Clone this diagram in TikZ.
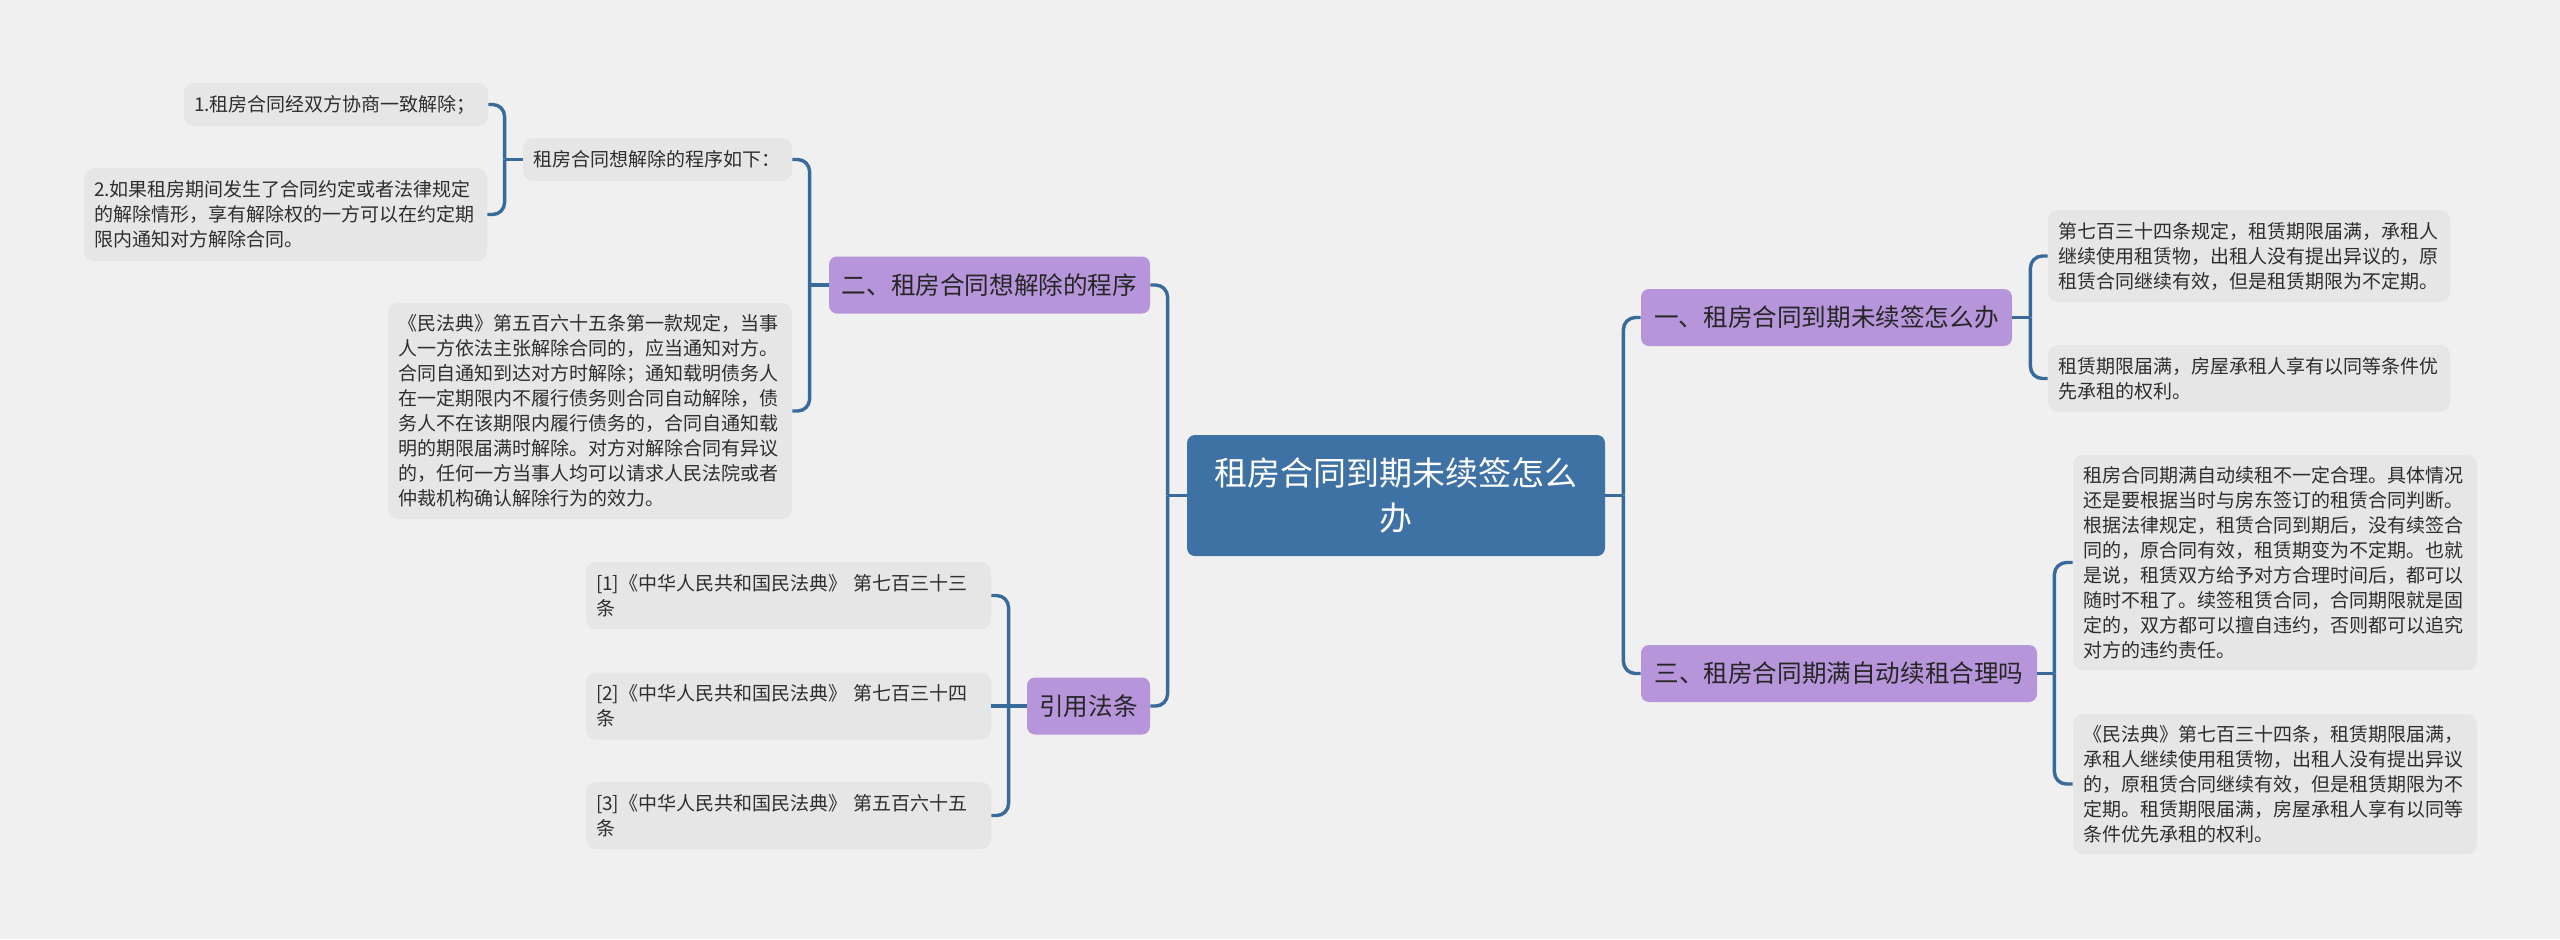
\documentclass[tikz,border=0pt]{standalone}
\usepackage{fontspec}
\usepackage{xcolor}
\usepackage{tikz}
\usetikzlibrary{positioning}
\setmainfont{Noto Sans CJK SC}
\newfontfamily\cjk{Noto Sans CJK SC}
\definecolor{bggray}{HTML}{F0F0F0}
\definecolor{leafgray}{HTML}{E6E6E6}
\definecolor{topicpurple}{HTML}{B795DA}
\definecolor{rootblue}{HTML}{3E71A4}
\definecolor{linkblue}{HTML}{386A9A}
\definecolor{inktext}{HTML}{2E2E2E}
\newcommand{\leaffont}{\cjk\fontsize{9.5}{12.5}\selectfont}
\newcommand{\topicfont}{\cjk\fontsize{12.3}{15}\selectfont}
\newcommand{\rootfont}{\cjk\fontsize{16.5}{22.5}\selectfont}
\tikzset{
  leafbox/.style={fill=leafgray, rounded corners=5pt, inner xsep=5pt, inner ysep=0pt,
    align=left, font=\leaffont, text=inktext},
  topicbox/.style={fill=topicpurple, rounded corners=4pt, inner sep=0pt,
    minimum height=28.5pt, align=center, font=\topicfont, text=black!85},
  rootbox/.style={fill=rootblue, rounded corners=4pt, inner sep=0pt,
    minimum width=209pt, minimum height=60.5pt, align=center, font=\rootfont, text=white},
  link/.style={draw=linkblue, line width=1.7pt, rounded corners=6pt},
}

\begin{document}
\begin{tikzpicture}[x=0.5pt, y=-0.5pt]
  % fundo
  \fill[bggray] (0,0) rectangle (2560,939);
  \useasboundingbox (0,0) rectangle (2560,939);
  % centro
  \node[rootbox] (root) at (1396,495.5) {租房合同到期未续签怎么\\办};
  % ramos
  \node[topicbox, minimum width=185.5pt] (one) at (1826.5,317.5) {一、租房合同到期未续签怎么办};
  \node[topicbox, minimum width=198pt] (three) at (1839,673.5) {三、租房合同期满自动续租合理吗};
  \node[topicbox, minimum width=160.5pt] (two) at (989.5,285) {二、租房合同想解除的程序};
  \node[topicbox, minimum width=61.5pt] (cite) at (1088.5,706) {引用法条};
  % folhas, lado direito
  \node[leafbox, text width=191pt, minimum height=46pt] (r1) at (2249,256)
    {第七百三十四条规定，租赁期限届满，承租人\\继续使用租赁物，出租人没有提出异议的，原\\租赁合同继续有效，但是租赁期限为不定期。};
  \node[leafbox, text width=191pt, minimum height=33.5pt] (r2) at (2249,378.5)
    {租赁期限届满，房屋承租人享有以同等条件优\\先承租的权利。};
  \node[leafbox, text width=192pt, minimum height=107.5pt] (r3) at (2275,562.5)
    {租房合同期满自动续租不一定合理。具体情况\\还是要根据当时与房东签订的租赁合同判断。\\根据法律规定，租赁合同到期后，没有续签合\\同的，原合同有效，租赁期变为不定期。也就\\是说，租赁双方给予对方合理时间后，都可以\\随时不租了。续签租赁合同，合同期限就是固\\定的，双方都可以擅自违约，否则都可以追究\\对方的违约责任。};
  \node[leafbox, text width=192pt, minimum height=70pt] (r4) at (2275,784)
    {《民法典》第七百三十四条，租赁期限届满，\\承租人继续使用租赁物，出租人没有提出异议\\的，原租赁合同继续有效，但是租赁期限为不\\定期。租赁期限届满，房屋承租人享有以同等\\条件优先承租的权利。};
  % folhas, lado esquerdo
  \node[leafbox, text width=124.5pt, minimum height=21.5pt] (sub) at (657.5,159.5)
    {租房合同想解除的程序如下：};
  \node[leafbox, text width=142pt, minimum height=21.5pt] (l1) at (336,104.5)
    {1.租房合同经双方协商一致解除；};
  \node[leafbox, text width=191.5pt, minimum height=46.5pt] (l2) at (285.5,214.5)
    {2.如果租房期间发生了合同约定或者法律规定\\的解除情形，享有解除权的一方可以在约定期\\限内通知对方解除合同。};
  \node[leafbox, text width=192pt, minimum height=108pt] (l3) at (590,411)
    {《民法典》第五百六十五条第一款规定，当事\\人一方依法主张解除合同的，应当通知对方。\\合同自通知到达对方时解除；通知载明债务人\\在一定期限内不履行债务则合同自动解除，债\\务人不在该期限内履行债务的，合同自通知载\\明的期限届满时解除。对方对解除合同有异议\\的，任何一方当事人均可以请求人民法院或者\\仲裁机构确认解除行为的效力。};
  % referencias
  \node[leafbox, text width=192.5pt, minimum height=33.5pt] (ref1) at (788.5,595.5)
    {[1]《中华人民共和国民法典》 第七百三十三\\条};
  \node[leafbox, text width=192.5pt, minimum height=33.5pt] (ref2) at (788.5,706)
    {[2]《中华人民共和国民法典》 第七百三十四\\条};
  \node[leafbox, text width=192.5pt, minimum height=33.5pt] (ref3) at (788.5,815.5)
    {[3]《中华人民共和国民法典》 第五百六十五\\条};
  % pontos de junção
  \coordinate[right=9pt of root] (jr);
  \coordinate[left=9.5pt of root] (jl);
  \coordinate[right=9pt of one] (j1);
  \coordinate[right=8.5pt of three] (j3);
  \coordinate[left=9.5pt of two] (j2);
  \coordinate[left=9pt of sub] (js);
  \coordinate[left=9pt of cite] (jc);
  % ligações
  \draw[link] (root.east) -- (jr);
  \draw[link] (one.west) -| (jr);
  \draw[link] (three.west) -| (jr);
  \draw[link] (root.west) -- (jl);
  \draw[link] (two.east) -| (jl);
  \draw[link] (cite.east) -| (jl);
  \draw[link] (one.east) -- (j1);
  \draw[link] (r1.west) -| (j1);
  \draw[link] (r2.west) -| (j1);
  \draw[link] (three.east) -- (j3);
  \draw[link] (r3.west) -| (j3);
  \draw[link] (r4.west) -| (j3);
  \draw[link] (two.west) -- (j2);
  \draw[link] (sub.east) -| (j2);
  \draw[link] (l3.east) -| (j2);
  \draw[link] (sub.west) -- (js);
  \draw[link] (l1.east) -| (js);
  \draw[link] (l2.east) -| (js);
  \draw[link] (cite.west) -- (jc);
  \draw[link] (ref1.east) -| (jc);
  \draw[link] (ref2.east) -- (jc);
  \draw[link] (ref3.east) -| (jc);
\end{tikzpicture}
\end{document}
